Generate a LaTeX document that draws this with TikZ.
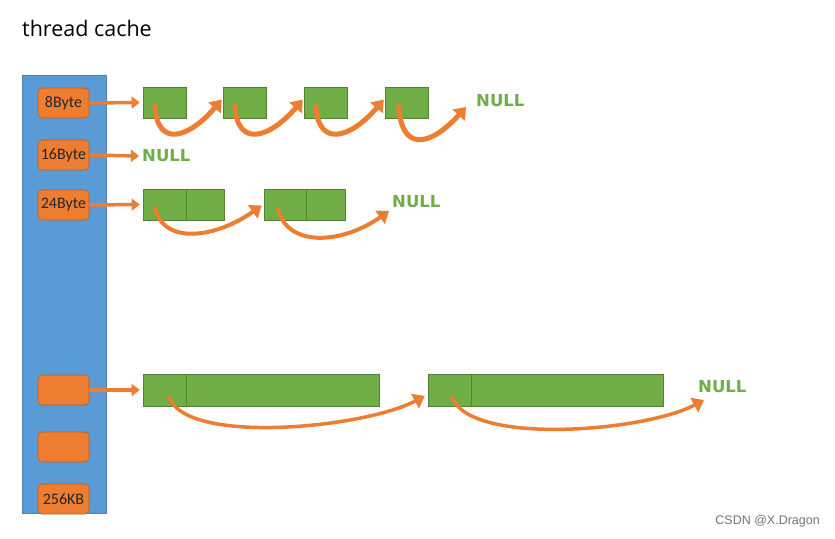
\documentclass[tikz,border=0pt]{standalone}
\usepackage{fontspec}
\setmainfont{Carlito}
\newfontfamily\titlefont{Open Sans}
\newfontfamily\nulltextfont{DejaVu Sans}
\newfontfamily\markfont{Liberation Sans}
\usetikzlibrary{arrows.meta}
\definecolor{cblue}{HTML}{5B9BD5}
\definecolor{corange}{HTML}{ED7D31}
\definecolor{cgreen}{HTML}{70AD47}
\definecolor{nullgreen}{HTML}{6FAE47}
\begin{document}
\begin{tikzpicture}[x=1pt,y=-1pt,
  sizebox/.style={draw=corange!75!black, line width=0.6pt, fill=corange, rounded corners=4pt,
    minimum width=51pt, minimum height=30pt, inner sep=0pt,
    font=\fontsize{16}{16}\selectfont, text=black!85},
  block/.style={fill=cgreen, draw=cgreen!75!black, line width=0.6pt, minimum height=31pt, inner sep=0pt},
  link/.style={draw=corange, line width=3.5pt, -{Triangle[length=8pt,width=12pt]}},
  hop/.style={draw=corange, line width=5pt, -{Triangle[length=11pt,width=16pt]}},
  nulltxt/.style={text=nullgreen, font=\nulltextfont\bfseries\fontsize{16.5}{16.5}\selectfont, inner sep=0pt}
]
\useasboundingbox[fill=white] (0,0) rectangle (835,538);

% title
\node[anchor=base west, inner sep=0pt, font=\titlefont\fontsize{21.5}{21.5}\selectfont] (title) at (22,36) {thread cache};

% blue column
\node[fill=cblue, draw=cblue!85!black, line width=0.5pt, minimum width=84pt, minimum height=438pt, inner sep=0pt] (col) at (64,294) {};

% size classes
\node[sizebox] (s8) at (63.5,103) {8Byte};
\node[sizebox] (s16) at (63.5,155) {16Byte};
\node[sizebox] (s24) at (63.5,205) {24Byte};
\node[sizebox] (sa) at (63.5,390) {};
\node[sizebox] (sb) at (63.5,447) {};
\node[sizebox] (s256) at (63.5,499) {256KB};

% row 1 : 8Byte
\node[block, minimum width=43pt] (a1) at (164.5,102.5) {};
\node[block, minimum width=43pt] (a2) at (244.5,102.5) {};
\node[block, minimum width=43pt] (a3) at (325.5,102.5) {};
\node[block, minimum width=43pt] (a4) at (406.5,102.5) {};
\node[nulltxt, anchor=west] (n1) at (476,101) {NULL};

\draw[link] (s8.east) -- ([xshift=-3pt]a1.west);
\draw[hop] ([xshift=12pt,yshift=-2pt]a1.west) .. controls +(2,45) and +(-32,38) .. ([xshift=-1pt,yshift=3pt]a2.west);
\draw[hop] ([xshift=12pt,yshift=-2pt]a2.west) .. controls +(2,45) and +(-32,38) .. ([xshift=-1pt,yshift=3pt]a3.west);
\draw[hop] ([xshift=12pt,yshift=-2pt]a3.west) .. controls +(2,45) and +(-32,38) .. ([xshift=-1pt,yshift=3pt]a4.west);
\draw[hop] ([xshift=14pt,yshift=-2pt]a4.west) .. controls +(2,48) and +(-36,40) .. ([xshift=-10pt,yshift=-6pt]n1.west);

% row 2 : 16Byte
\node[nulltxt, anchor=west] (n2) at (142,156) {NULL};
\draw[link] (s16.east) -- ([xshift=-3pt]n2.west);

% row 3 : 24Byte
\node[block, minimum width=43pt] (b1) at (164.5,204.5) {};
\node[block, minimum width=38pt] (b1r) at (205,204.5) {};
\node[block, minimum width=42pt] (b2) at (285,204.5) {};
\node[block, minimum width=39pt] (b2r) at (325.5,204.5) {};
\node[nulltxt, anchor=west] (n3) at (392,202) {NULL};

\draw[link] (s24.east) -- ([xshift=-3pt]b1.west);
\draw[hop, line width=4pt] ([xshift=12pt,yshift=-2pt]b1.west) .. controls +(8,40) and +(-45,32) .. ([xshift=-2pt,yshift=-1pt]b2.west);
\draw[hop, line width=4pt] ([xshift=14pt,yshift=-3pt]b2.west) .. controls +(8,40) and +(-48,34) .. ([xshift=-3pt,yshift=-9pt]n3.west);

% row 5 : large block
\node[block, minimum width=43pt, minimum height=32pt] (c1) at (164.5,390) {};
\node[block, minimum width=193pt, minimum height=32pt] (c1r) at (282.5,390) {};
\node[block, minimum width=43pt, minimum height=32pt] (c2) at (449.5,390) {};
\node[block, minimum width=192pt, minimum height=32pt] (c2r) at (567,390) {};
\node[nulltxt, anchor=west] (n5) at (698,387) {NULL};

\draw[link] (sa.east) -- ([xshift=-3pt]c1.west);
\draw[hop, line width=3.5pt] ([xshift=26pt,yshift=-6pt]c1.west) .. controls +(15,50) and +(-60,32) .. ([xshift=-3pt,yshift=-6pt]c2.west);
\draw[hop, line width=3.5pt] ([xshift=24pt,yshift=-6pt]c2.west) .. controls +(15,50) and +(-60,32) .. ([xshift=6pt,yshift=-13pt]n5.west);

% watermark
\node[anchor=east, inner sep=0pt, text=black!55, font=\markfont\fontsize{12.5}{12.5}\selectfont] (mark) at (820,521) {CSDN @X.Dragon};
\end{tikzpicture}
\end{document}
